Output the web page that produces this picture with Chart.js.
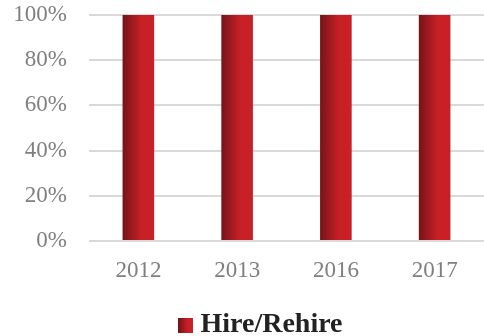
<!DOCTYPE html>
<html>
<head>
<meta charset="utf-8">
<script src="https://cdn.jsdelivr.net/npm/chart.js@4/dist/chart.umd.min.js"></script>
<style>
    html, body { margin: 0; padding: 0; background: #ffffff; }
    #wrap { width: 484px; height: 336px; position: relative; }
</style>
</head>
<body>
<div id="wrap"><canvas id="hireChart"></canvas></div>
<script>
    var years = ['2012', '2013', '2016', '2017'];
    var hireRehire = [100, 100, 100, 100];
    var yTicks = [0, 20, 40, 60, 80, 100];

    var BAR_SHARE = 0.32;
    var DARK_RED = '#741417';
    var RED = '#c82027';

    // horizontal shading for each bar: dark on the left edge, bright red on the right
    function barGradient(context) {
        var chart = context.chart;
        var area = chart.chartArea;
        if (!area) {
            return RED;
        }
        var xScale = chart.scales.x;
        var center = xScale.getPixelForValue(context.dataIndex);
        var half = (xScale.width / years.length) * BAR_SHARE / 2;
        var g = chart.ctx.createLinearGradient(center - half, 0, center + half, 0);
        g.addColorStop(0, DARK_RED);
        g.addColorStop(0.6, RED);
        g.addColorStop(1, RED);
        return g;
    }

    // small shaded square used as the legend marker
    var marker = document.createElement('canvas');
    marker.width = 15;
    marker.height = 15;
    (function () {
        var mctx = marker.getContext('2d');
        var g = mctx.createLinearGradient(0, 0, 15, 0);
        g.addColorStop(0, DARK_RED);
        g.addColorStop(0.6, RED);
        g.addColorStop(1, RED);
        mctx.fillStyle = g;
        mctx.fillRect(0, 0, 15, 15);
    })();

    // the legend sits centred under the plot area rather than the whole canvas
    var legendShift = {
        id: 'legendShift',
        afterLayout: function (chart) {
            chart.legend.left += 20;
            chart.legend.right += 20;
        }
    };

    var ctx = document.getElementById('hireChart');
    var hireChart = new Chart(ctx, {
        type: 'bar',
        data: {
            labels: years,
            datasets: [{
                label: 'Hire/Rehire',
                data: hireRehire,
                backgroundColor: barGradient,
                borderWidth: 0,
                barPercentage: BAR_SHARE,
                categoryPercentage: 1,
            }]
        },
        plugins: [legendShift],
        options: {
            responsive: true,
            maintainAspectRatio: false,
            animation: false,
            layout: {
                padding: { top: 15, right: -4, bottom: -13, left: 0 }
            },
            plugins: {
                tooltip: { enabled: false },
                legend: {
                    position: 'bottom',
                    labels: {
                        usePointStyle: true,
                        pointStyle: marker,
                        pointStyleWidth: 1,
                        padding: 4,
                        color: '#222222',
                        font: { family: 'Liberation Serif', size: 28, weight: 'bold' },
                    }
                },
            },
            scales: {
                x: {
                    grid: { display: false, drawTicks: false },
                    border: { display: false },
                    afterFit: function (axis) { axis.height = 66; },
                    ticks: {
                        color: '#7f7f7f',
                        padding: 16,
                        font: { family: 'Liberation Serif', size: 23 },
                    }
                },
                y: {
                    min: 0,
                    max: 100,
                    afterBuildTicks: function (axis) {
                        axis.ticks = yTicks.map(function (v) { return { value: v }; });
                    },
                    afterFit: function (axis) {
                        axis.width = 89;
                        axis.paddingTop = 0;
                        axis.paddingBottom = 0;
                    },
                    grid: { color: '#d9d9d9', lineWidth: 2, drawTicks: false },
                    border: { display: false },
                    ticks: {
                        color: '#7f7f7f',
                        padding: 22,
                        font: { family: 'Liberation Serif', size: 23 },
                        callback: function (v) { return v + '%'; },
                    }
                }
            }
        }
    });
</script>
</body>
</html>
